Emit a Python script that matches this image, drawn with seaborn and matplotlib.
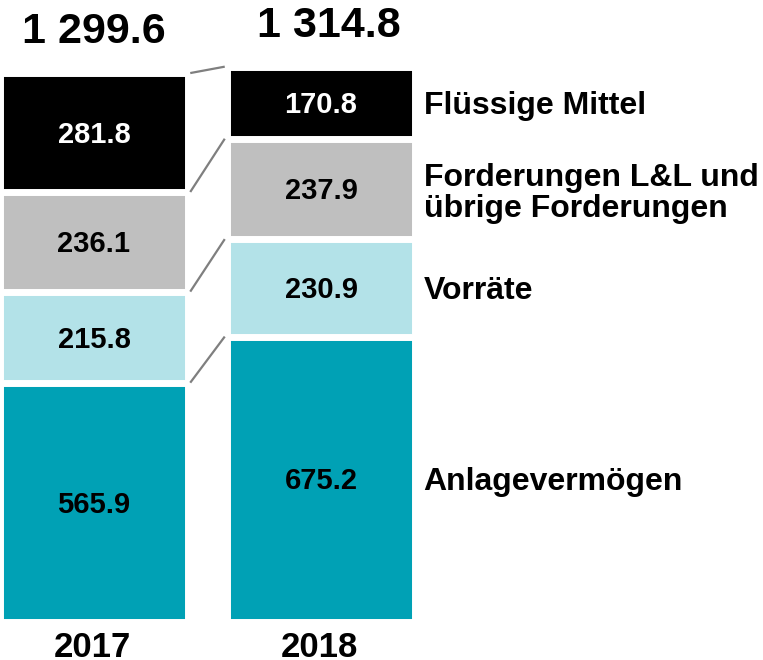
import matplotlib

matplotlib.use("Agg")
import matplotlib.pyplot as plt
import numpy as np
import pandas as pd
import seaborn as sns

# data (Mio. EUR), bottom to top
years = ["2017", "2018"]
categories = ["Anlagevermögen", "Vorräte", "Forderungen L&L und\nübrige Forderungen", "Flüssige Mittel"]
anlage = [565.9, 675.2]
vorraete = [215.8, 230.9]
forderungen = [236.1, 237.9]
fluessig = [281.8, 170.8]
totals = [1299.6, 1314.8]
total_labels = ["1 299.6", "1 314.8"]

colors = ["#00A1B5", "#B3E2E8", "#BFBFBF", "#000000"]
text_colors = ["black", "black", "black", "white"]

sns.set_theme(style="white")
plt.rcParams["font.family"] = ["Liberation Sans", "DejaVu Sans"]
plt.rcParams["font.weight"] = "bold"

DPI = 100
fig = plt.figure(figsize=(7.63, 6.6), dpi=DPI)
ax = fig.add_axes([0, 0, 1, 1])

# layout in pixels
px_per_cat = 227.0
px_per_unit = 0.422
x0_px = 94.0
y0_px = 38.5  # data zero above figure bottom
bar_w = 0.824

values = np.array([anlage, vorraete, forderungen, fluessig])
cum = np.cumsum(values, axis=0)

# stacked bars drawn as overlapping cumulative bars, top first
for i in range(len(categories) - 1, -1, -1):
    df = pd.DataFrame({"year": years, "value": cum[i]})
    sns.barplot(data=df, x="year", y="value", color=colors[i], saturation=1,
                width=bar_w, edgecolor="white", linewidth=5, errorbar=None, ax=ax)

ax.set_xlim(-x0_px / px_per_cat, (763 - x0_px) / px_per_cat)
ax.set_ylim(-y0_px / px_per_unit, (660 - y0_px) / px_per_unit)
ax.axis("off")


def cap_px(size):
    return 0.716 * size * DPI / 72


# segment values
seg_size = 21
for j in range(len(years)):
    for i in range(len(categories)):
        center = cum[i, j] - values[i, j] / 2
        ax.annotate(f"{values[i, j]:.1f}", (j, center), xytext=(0, -cap_px(seg_size) / 2),
                    textcoords="offset pixels", ha="center", va="baseline",
                    fontsize=seg_size, fontweight="bold", color=text_colors[i])

# connector lines between bars
gap = 0.012
xa = bar_w / 2 + gap
xb = 1 - bar_w / 2 - gap
bounds = np.vstack([np.zeros((1, 2)), cum])
for i in range(1, len(bounds)):
    ax.plot([xa, xb], [bounds[i, 0], bounds[i, 1]], color="#7F7F7F", lw=1.6,
            solid_capstyle="butt")

# totals above bars
tot_size = 31
tot_dx = [0, 8]
for j in range(len(years)):
    ax.annotate(total_labels[j], (j, totals[j]), xytext=(tot_dx[j], 30),
                textcoords="offset pixels", ha="center", va="baseline",
                fontsize=tot_size, fontweight="bold", color="black")

# year labels
for j in range(len(years)):
    ax.annotate(years[j], (j, 0), xytext=(-2, -35.5), textcoords="offset pixels",
                ha="center", va="baseline", fontsize=25, fontweight="bold", color="black")

# category labels right of 2018 bar (baseline of the last line is anchored)
lab_size = 23
line_px = 33
for i in range(len(categories)):
    center = cum[i, 1] - values[i, 1] / 2
    n = categories[i].count("\n")
    dy = (n * line_px - cap_px(lab_size)) / 2 - n * line_px
    ax.annotate(categories[i], (1 + bar_w / 2, center), xytext=(9, dy),
                textcoords="offset pixels", ha="left", va="baseline",
                fontsize=lab_size, fontweight="bold", color="black",
                linespacing=line_px / (lab_size * DPI / 72))

fig.savefig("out.png", dpi=DPI)
